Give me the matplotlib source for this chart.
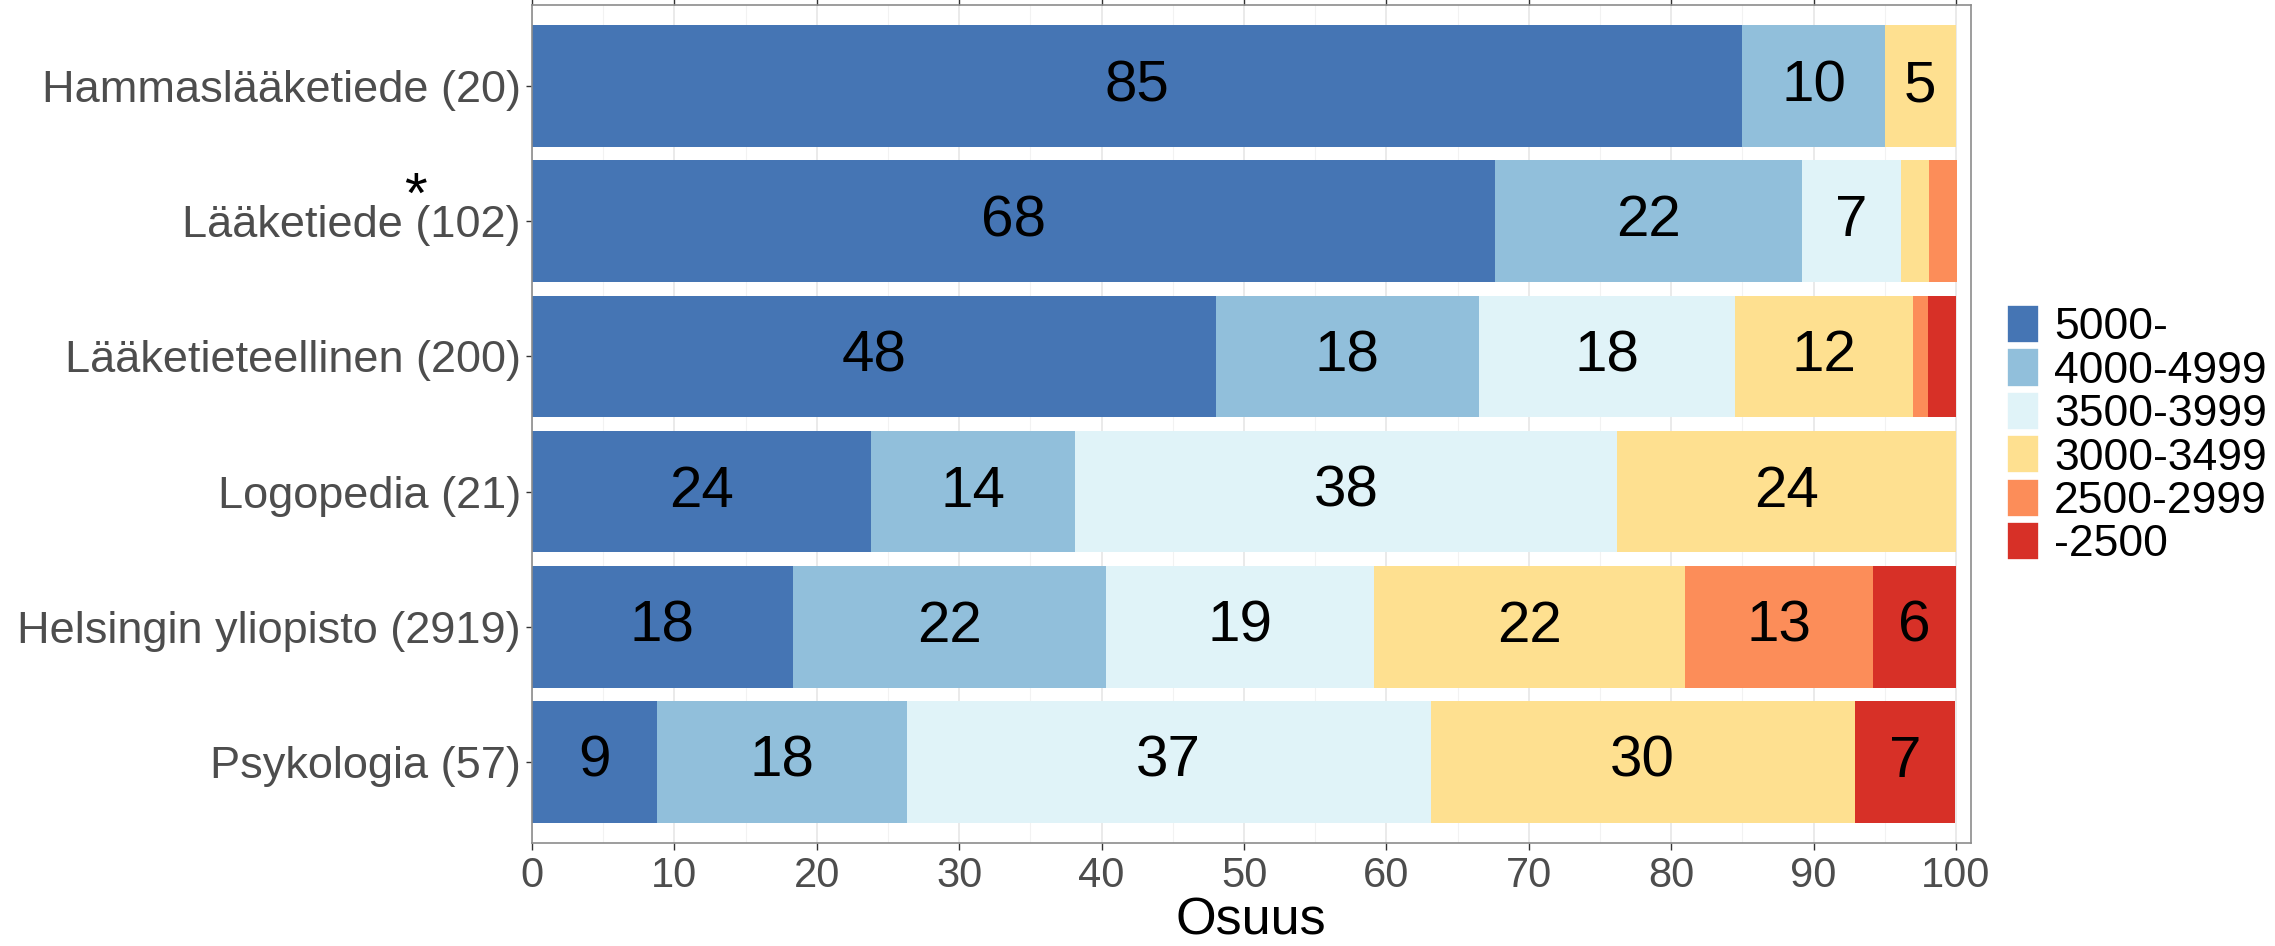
import matplotlib
matplotlib.use("Agg")
import matplotlib.pyplot as plt
from matplotlib.patches import Patch
import numpy as np

plt.rcParams['font.family'] = ['Liberation Sans', 'DejaVu Sans']

# rivit ylhäältä alas
categories = ['Hammaslääketiede (20)', 'Lääketiede (102)', 'Lääketieteellinen (200)',
              'Logopedia (21)', 'Helsingin yliopisto (2919)', 'Psykologia (57)']
groups = ['5000-', '4000-4999', '3500-3999', '3000-3499', '2500-2999', '-2500']
colors = ['#4575b4', '#91bfdb', '#e0f3f8', '#fee090', '#fc8d59', '#d73027']

# osuudet (%) per palkkaluokka, rivit kuten categories
p5000 = [85.0, 67.6, 48.0, 23.8, 18.3, 8.8]
p4000 = [10.0, 21.6, 18.5, 14.3, 22.0, 17.5]
p3500 = [0.0, 6.9, 18.0, 38.1, 18.8, 36.8]
p3000 = [5.0, 2.0, 12.5, 23.8, 21.9, 29.8]
p2500 = [0.0, 2.0, 1.0, 0.0, 13.2, 0.0]
p0 = [0.0, 0.0, 2.0, 0.0, 5.8, 7.0]
shares = [p5000, p4000, p3500, p3000, p2500, p0]

W, H = 2275, 946
fig = plt.figure(figsize=(W / 100, H / 100), dpi=100)
ax = fig.add_axes([532 / W, (H - 843) / H, (1971 - 532) / W, (843 - 5) / H])

y = np.arange(len(categories))
left = np.zeros(len(categories))
for vals, col in zip(shares, colors):
    vals = np.array(vals)
    ax.barh(y, vals, left=left, height=0.9, color=col, zorder=2)
    for yi, l, v in zip(y, left, vals):
        if v >= 5:
            ax.text(l + v / 2, yi, f"{v:.0f}", ha='center', va='center',
                    fontsize=42, color='black', zorder=3)
    left += vals

ax.set_xlim(0, 101.05)
ax.set_ylim(5.6, -0.6)
ax.set_yticks(y)
ax.set_yticklabels(categories)
ax.set_xticks(np.arange(0, 101, 10))
ax.set_xticks(np.arange(5, 100, 10), minor=True)
ax.grid(True, axis='x', which='major', color='#e6e6e6', lw=1.2, zorder=0)
ax.grid(True, axis='x', which='minor', color='#f2f2f2', lw=0.8, zorder=0)
ax.tick_params(axis='x', which='major', top=True, length=5, width=1, color='#333333',
               labelsize=30, labelcolor='#4d4d4d', pad=4)
ax.tick_params(axis='x', which='minor', length=0)
ax.tick_params(axis='y', length=4, width=1, color='#333333',
               labelsize=32.5, labelcolor='#4d4d4d', pad=4)
for s in ax.spines.values():
    s.set_color('#8c8c8c')
    s.set_linewidth(1.2)

# tähti Lääketiede-rivin perässä
fig.text(415 / W, 1 - 213 / H, '*', ha='center', va='baseline', fontsize=42,
         color='black')

fig.text(1251 / W, (H - 934) / H, 'Osuus', ha='center', va='baseline',
         fontsize=37.5, color='black')

handles = [Patch(facecolor=c, edgecolor='white', linewidth=1.2) for c in colors]
fs = 32
px = fs * 100 / 72
fig.legend(handles, groups, loc='upper left', bbox_to_anchor=(2007 / W, 1 - 305 / H),
           frameon=False, borderpad=0, borderaxespad=0, fontsize=fs,
           handlelength=32 / px, handleheight=42 / px, handletextpad=15 / px,
           labelspacing=0)

fig.savefig('out.png', dpi=100)
